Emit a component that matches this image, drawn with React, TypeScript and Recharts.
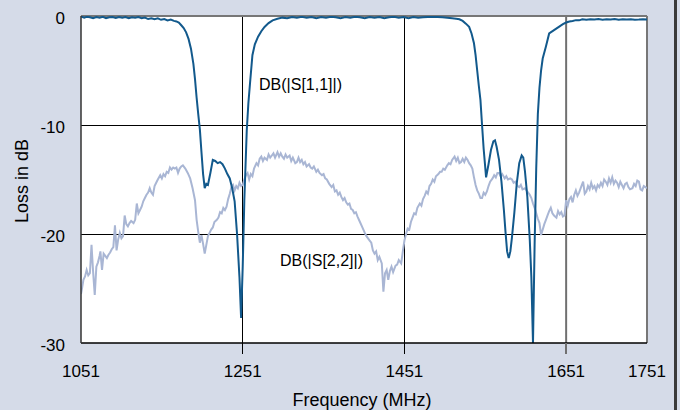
import React from 'react';
import { LineChart, Line, XAxis, YAxis, CartesianGrid, ReferenceLine } from 'recharts';

const xTicks = [1051, 1251, 1451, 1651, 1751];
const yTicks = [0, -10, -20, -30];

const s11Freq = [
  1051, 1055, 1058, 1062, 1066, 1070, 1074, 1078, 1082, 1086, 1090, 1094, 1098, 1102, 1106, 1110, 1114, 1118, 1122, 1126,
  1130, 1134, 1138, 1142, 1146, 1150, 1154, 1158, 1162, 1166, 1169, 1172, 1175, 1178, 1181, 1184, 1187, 1190, 1192, 1194,
  1196, 1198, 1200, 1202, 1204, 1206, 1208, 1211, 1214, 1217, 1220, 1223, 1226, 1229, 1232, 1235, 1238, 1241, 1244, 1247,
  1249, 1251, 1253, 1256, 1258, 1260, 1263, 1266, 1270, 1274, 1278, 1283, 1288, 1294, 1300, 1306, 1312, 1318, 1324, 1330,
  1336, 1342, 1348, 1354, 1360, 1366, 1372, 1378, 1384, 1390, 1396, 1402, 1408, 1414, 1420, 1426, 1432, 1438, 1444, 1450,
  1456, 1462, 1468, 1474, 1480, 1486, 1492, 1498, 1504, 1510, 1515, 1519, 1523, 1527, 1531, 1534, 1537, 1539, 1541, 1543,
  1545, 1547, 1549, 1552, 1555, 1558, 1561, 1563, 1565, 1568, 1571, 1574, 1576, 1578, 1580, 1582, 1584, 1587, 1590, 1593,
  1596, 1598, 1600, 1603, 1606, 1608, 1610, 1612, 1614, 1616, 1618, 1620, 1622, 1626, 1630, 1636, 1642, 1647, 1651, 1655,
  1659, 1663, 1667, 1671, 1676, 1681, 1686, 1691, 1696, 1701, 1706, 1711, 1716, 1721, 1726, 1731, 1736, 1741, 1746, 1751,
];
const s11Loss = [
  -0.05, -0.15, -0.08, -0.12, -0.2, -0.1, -0.15, -0.08, -0.2, -0.12, -0.1, -0.18, -0.1, -0.15, -0.1, -0.2, -0.12, -0.15, -0.1, -0.2,
  -0.15, -0.28, -0.2, -0.3, -0.22, -0.35, -0.28, -0.4, -0.32, -0.45, -0.5, -0.6, -0.85, -1.1, -1.5, -2.1, -3.0, -4.4, -5.8, -7.5,
  -9.0, -10.4, -12.5, -14.5, -15.8, -15.4, -15.5, -14.4, -13.2, -13.3, -13.5, -13.4, -13.6, -14.0, -14.5, -14.9, -15.8, -17.0, -20.0, -24.0,
  -27.7, -23.0, -16.9, -10.5, -8.0, -6.2, -3.6, -2.6, -1.9, -1.4, -1.0, -0.65, -0.4, -0.25, -0.15, -0.2, -0.1, -0.15, -0.08, -0.15,
  -0.1, -0.2, -0.1, -0.15, -0.08, -0.12, -0.2, -0.1, -0.15, -0.08, -0.12, -0.2, -0.1, -0.15, -0.1, -0.2, -0.12, -0.08, -0.15, -0.1,
  -0.2, -0.1, -0.15, -0.12, -0.1, -0.08, -0.1, -0.12, -0.15, -0.2, -0.25, -0.3, -0.45, -0.7, -1.0, -1.6, -2.5, -3.6, -5.0, -6.4,
  -7.7, -10.0, -12.2, -14.8, -13.6, -12.3, -11.5, -11.4, -12.0, -13.2, -15.2, -17.8, -19.8, -21.6, -22.2, -21.6, -20.3, -18.0, -15.3, -13.5,
  -12.8, -13.0, -14.2, -16.6, -20.5, -24.0, -30.0, -21.0, -14.0, -9.0, -6.6, -5.0, -3.9, -2.8, -1.6, -1.3, -1.0, -0.75, -0.6, -0.5,
  -0.45, -0.38, -0.4, -0.3, -0.35, -0.3, -0.32, -0.28, -0.35, -0.3, -0.33, -0.28, -0.35, -0.3, -0.32, -0.3, -0.35, -0.33, -0.3, -0.32,
];

const s22Freq = [
  1051, 1052, 1054, 1056, 1058, 1060, 1062, 1064, 1066, 1068, 1070, 1072, 1074, 1075, 1077, 1079, 1081, 1083, 1085, 1087,
  1089, 1091, 1093, 1095, 1097, 1099, 1101, 1103, 1105, 1107, 1109, 1111, 1113, 1116, 1118, 1120, 1122, 1124, 1126, 1128,
  1130, 1132, 1134, 1136, 1138, 1140, 1142, 1144, 1146, 1149, 1151, 1153, 1155, 1157, 1159, 1161, 1163, 1165, 1167, 1169,
  1171, 1173, 1175, 1177, 1180, 1183, 1186, 1189, 1192, 1194, 1196, 1198, 1200, 1202, 1204, 1206, 1208, 1210, 1212, 1214,
  1216, 1219, 1221, 1223, 1225, 1227, 1229, 1231, 1233, 1235, 1237, 1239, 1241, 1243, 1245, 1247, 1249, 1251, 1253, 1255,
  1257, 1259, 1261, 1263, 1265, 1268, 1270, 1272, 1274, 1276, 1278, 1281, 1283, 1285, 1287, 1289, 1291, 1294, 1296, 1298,
  1300, 1302, 1304, 1306, 1309, 1311, 1313, 1316, 1318, 1320, 1322, 1324, 1326, 1328, 1330, 1333, 1335, 1337, 1339, 1342,
  1344, 1346, 1349, 1351, 1353, 1355, 1358, 1361, 1363, 1365, 1367, 1369, 1371, 1373, 1375, 1377, 1379, 1381, 1383, 1385,
  1387, 1389, 1391, 1393, 1396, 1399, 1402, 1404, 1406, 1408, 1410, 1412, 1414, 1416, 1418, 1420, 1423, 1425, 1427, 1429,
  1431, 1433, 1435, 1437, 1440, 1442, 1444, 1447, 1449, 1451, 1453, 1455, 1457, 1459, 1461, 1463, 1465, 1467, 1470, 1472,
  1474, 1476, 1478, 1480, 1482, 1484, 1486, 1488, 1490, 1493, 1495, 1497, 1499, 1501, 1504, 1506, 1508, 1510, 1513, 1515,
  1517, 1519, 1521, 1523, 1525, 1527, 1529, 1531, 1533, 1535, 1537, 1539, 1541, 1543, 1545, 1547, 1549, 1551, 1553, 1555,
  1557, 1560, 1562, 1564, 1566, 1568, 1570, 1572, 1575, 1577, 1579, 1582, 1584, 1586, 1588, 1591, 1593, 1595, 1597, 1600,
  1602, 1604, 1606, 1608, 1610, 1612, 1614, 1616, 1618, 1620, 1622, 1624, 1626, 1628, 1630, 1632, 1634, 1636, 1639, 1641,
  1643, 1645, 1647, 1649, 1651, 1653, 1655, 1657, 1659, 1661, 1663, 1665, 1667, 1669, 1672, 1674, 1676, 1678, 1680, 1682,
  1684, 1686, 1688, 1690, 1692, 1694, 1696, 1698, 1700, 1702, 1704, 1706, 1708, 1710, 1712, 1714, 1716, 1718, 1720, 1722,
  1724, 1726, 1728, 1730, 1733, 1735, 1737, 1739, 1741, 1743, 1745, 1747, 1749, 1751,
];
const s22Loss = [
  -25.5, -25.1, -24.2, -23.9, -23.3, -23.8, -23.6, -21.0, -23.5, -25.6, -23.0, -22.6, -22.0, -21.6, -23.3, -21.8, -22.0, -22.2, -21.9, -21.7,
  -21.4, -21.2, -19.2, -21.5, -20.5, -19.9, -20.4, -20.2, -18.3, -19.1, -19.3, -19.0, -18.8, -19.0, -18.7, -17.2, -18.1, -17.8, -17.5, -17.0,
  -16.7, -16.4, -16.2, -15.8, -16.2, -16.4, -15.6, -15.3, -15.0, -14.6, -14.9, -14.5, -14.7, -14.3, -14.4, -13.9, -14.1, -13.9, -14.0, -13.9,
  -14.4, -14.0, -13.8, -13.7, -14.0, -14.4, -14.9, -15.8, -16.9, -18.7, -19.8, -20.8, -20.1, -20.9, -21.8, -21.0, -20.2, -19.9, -19.6, -19.4,
  -18.9, -18.7, -18.5, -18.0, -18.1, -17.6, -17.8, -17.5, -16.8, -16.3, -15.7, -15.5, -16.0, -15.6, -15.8, -15.3, -15.6, -15.5, -15.0, -14.6,
  -14.4, -15.0, -14.5, -14.7, -14.0, -13.5, -13.7, -13.1, -12.9, -13.3, -13.0, -13.2, -12.7, -13.0, -12.8, -12.6, -13.0, -12.5, -12.9, -12.6,
  -12.9, -13.1, -12.7, -13.0, -12.8, -13.3, -13.0, -13.5, -13.4, -13.0, -13.4, -13.2, -13.6, -13.4, -13.8, -13.6, -13.9, -14.0, -13.8, -14.3,
  -14.1, -14.4, -14.6, -14.5, -14.9, -15.0, -15.4, -15.7, -15.5, -16.1, -16.0, -16.4, -16.2, -16.6, -16.9, -16.7, -17.1, -17.3, -17.2, -17.7,
  -17.8, -18.1, -18.0, -18.4, -18.9, -19.4, -19.9, -20.2, -20.4, -20.6, -20.8, -21.5, -21.8, -21.6, -22.4, -22.1, -22.7, -25.3, -23.6, -23.3,
  -24.2, -23.4, -23.0, -23.5, -22.9, -22.8, -22.4, -22.7, -21.6, -20.6, -20.0, -19.5, -19.6, -18.9, -18.5, -18.1, -18.2, -17.6, -17.2, -17.4,
  -16.8, -16.5, -16.1, -16.3, -15.6, -15.4, -15.0, -15.2, -14.7, -14.5, -14.3, -14.3, -14.0, -14.1, -13.7, -13.5, -13.6, -13.2, -12.9, -13.3,
  -13.0, -13.5, -13.4, -13.1, -13.4, -13.0, -13.2, -13.5, -13.7, -14.0, -14.8, -15.5, -16.0, -16.3, -16.7, -16.7, -16.2, -16.4, -16.1, -15.6,
  -15.2, -14.9, -14.6, -14.8, -14.4, -14.4, -14.7, -14.5, -14.9, -14.7, -15.0, -14.9, -15.0, -15.3, -15.2, -15.6, -15.7, -15.5, -15.9, -15.8,
  -16.0, -16.2, -16.4, -16.7, -17.2, -17.6, -18.1, -18.6, -19.0, -20.1, -19.6, -19.1, -18.7, -18.3, -17.9, -17.6, -18.1, -18.3, -18.5, -17.9,
  -18.2, -18.0, -18.4, -18.3, -16.9, -17.4, -16.8, -16.6, -17.1, -16.4, -16.0, -16.5, -16.2, -15.8, -15.2, -16.3, -16.1, -15.6, -15.9, -15.3,
  -15.8, -15.6, -16.0, -15.5, -15.7, -15.3, -15.6, -15.0, -15.2, -15.5, -14.9, -15.3, -14.8, -15.4, -15.1, -15.3, -15.7, -15.2, -15.5, -15.8,
  -15.4, -15.3, -15.7, -15.9, -15.8, -15.4, -15.6, -15.1, -15.2, -15.9, -16.0, -15.6, -15.7, -15.8,
];

const s11Data = s11Freq.map((f, i) => ({ f, v: s11Loss[i] }));
const s22Data = s22Freq.map((f, i) => ({ f, v: s22Loss[i] }));

const FONT = '"Liberation Sans", Arial, sans-serif';
const S11_COLOR = '#12598c';
const S22_COLOR = '#a9b6d4';

const XTick = (props: any) => {
  const { x, y, payload } = props;
  const v = payload.value;
  const showLine = v !== 1051 && v !== 1751;
  return (
    <g>
      {showLine && (
        <line x1={x} x2={x} y1={y} y2={y + 11} stroke={v === 1651 ? '#707070' : '#000'} strokeWidth={v === 1651 ? 2 : 1} shapeRendering="crispEdges" />
      )}
      <text x={x} y={y + 34} textAnchor="middle" fontSize={17} fontFamily={FONT} fill="#000">
        {v}
      </text>
    </g>
  );
};

const YTick = (props: any) => {
  const { x, y, payload } = props;
  return (
    <text x={x - 16} y={y + 8} textAnchor="end" fontSize={17} fontFamily={FONT} fill="#000">
      {payload.value}
    </text>
  );
};

export default function App() {
  return (
    <div style={{ position: 'absolute', left: 0, top: 0, width: 680, height: 410, background: '#d5dbe8', overflow: 'hidden' }}>
      <div style={{ position: 'absolute', left: 674, top: 0, width: 3, height: 410, background: '#3a3a3a' }} />
      <LineChart width={680} height={410} margin={{ top: 16, right: 33, bottom: 27, left: 21 }}>
        <CartesianGrid fill="#ffffff" stroke="#000" horizontal={false} vertical={false} />
        <XAxis
          type="number"
          dataKey="f"
          domain={[1051, 1751]}
          ticks={xTicks}
          height={40}
          tickSize={0}
          tickMargin={0}
          tickLine={false}
          axisLine={{ stroke: '#000', strokeWidth: 1.5 }}
          tick={<XTick />}
          interval={0}
          allowDataOverflow
        />
        <YAxis
          type="number"
          domain={[-30, 0]}
          ticks={yTicks}
          width={60}
          tickSize={0}
          tickMargin={0}
          tickLine={false}
          axisLine={{ stroke: '#333', strokeWidth: 1.5 }}
          tick={<YTick />}
          interval={0}
          allowDataOverflow
        />
        <ReferenceLine y={-10} stroke="#000" strokeWidth={1} shapeRendering="crispEdges" />
        <ReferenceLine y={-20} stroke="#000" strokeWidth={1} shapeRendering="crispEdges" />
        <ReferenceLine x={1251} stroke="#000" strokeWidth={1} shapeRendering="crispEdges" />
        <ReferenceLine x={1451} stroke="#000" strokeWidth={1} shapeRendering="crispEdges" />
        <ReferenceLine x={1651} stroke="#707070" strokeWidth={2} />
        <ReferenceLine y={0} stroke="#777" strokeWidth={2} />
        <ReferenceLine x={1751} stroke="#777" strokeWidth={2} />
        <Line data={s22Data} dataKey="v" type="linear" stroke={S22_COLOR} strokeWidth={2} dot={false} isAnimationActive={false} />
        <Line data={s11Data} dataKey="v" type="linear" stroke={S11_COLOR} strokeWidth={2} dot={false} isAnimationActive={false} />
      </LineChart>
      <svg width={680} height={410} style={{ position: 'absolute', left: 0, top: 0, pointerEvents: 'none' }}>
        <text x={259} y={90} fontSize={16} fontFamily={FONT} fill="#000">DB(|S[1,1]|)</text>
        <text x={280} y={266} fontSize={16} fontFamily={FONT} fill="#000">DB(|S[2,2]|)</text>
        <text x={362} y={406} textAnchor="middle" fontSize={18} fontFamily={FONT} fill="#000">Frequency (MHz)</text>
        <text x={28} y={181} textAnchor="middle" fontSize={18} fontFamily={FONT} fill="#000" transform="rotate(-90, 28, 181)">Loss in dB</text>
      </svg>
    </div>
  );
}
